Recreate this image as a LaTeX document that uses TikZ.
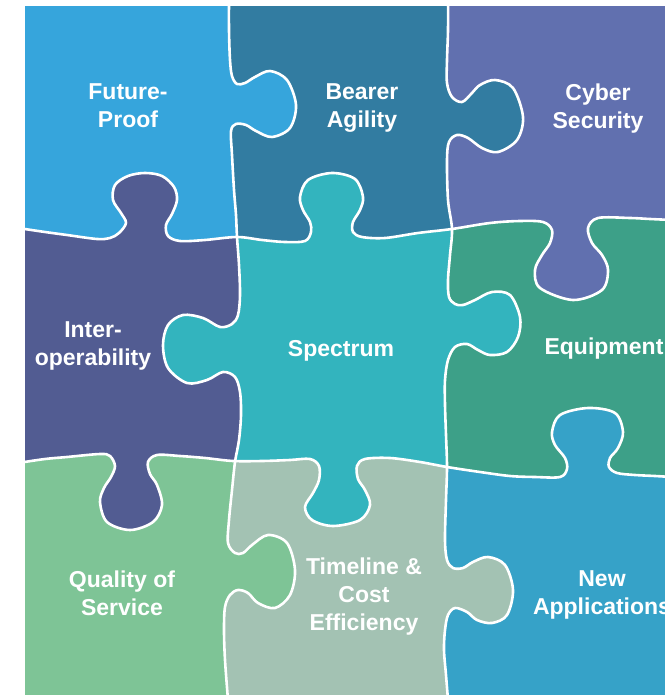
\documentclass[tikz,border=0pt]{standalone}
\usepackage{fontspec}
\setmainfont{Liberation Sans}
\definecolor{cfp}{HTML}{36A5DC}
\definecolor{cba}{HTML}{327CA1}
\definecolor{ccs}{HTML}{6170AF}
\definecolor{cio}{HTML}{525C92}
\definecolor{csp}{HTML}{33B4BE}
\definecolor{ceq}{HTML}{3DA088}
\definecolor{cqs}{HTML}{7EC496}
\definecolor{ctl}{HTML}{A3C2B3}
\definecolor{cna}{HTML}{36A2C8}
\begin{document}
\begin{tikzpicture}[x=1pt,y=-1pt,
  lbl/.style={text=white,font=\fontsize{23}{28}\selectfont\bfseries,align=center,inner sep=0pt},
  seam/.style={draw=white,line width=2.6pt,line join=round,line cap=round}]
\useasboundingbox (0,0) rectangle (665,695);
\def\Vone{plot[smooth,tension=0.55] coordinates {(229,-2) (229,30) (230,60) (232,76) (237,84) (245,83) (255,77) (270,71) (287,80) (296,105) (290,128) (272,137) (256,131) (246,125) (236,124) (231,131) (232,155) (234,190) (236,215) (237,237) (239,265) (240,295) (238,315) (232,324) (220,327) (203,318) (183,315) (168,325) (163,345) (168,368) (187,383) (207,380) (223,372) (235,377) (240,392) (241,415) (239,440) (235,462) (232,490) (229,520) (228,543) (235,553) (243,553) (252,545) (268,535) (287,543) (295,570) (290,595) (275,608) (258,603) (248,593) (238,590) (230,595) (225,607) (224,630) (225,660) (228,700)}}
\def\Vtwo{plot[smooth,tension=0.55] coordinates {(448,-2) (448,30) (447,60) (447,83) (452,97) (462,102) (472,93) (480,85) (495,80) (513,88) (523,117) (517,140) (498,152) (482,148) (468,138) (457,135) (449,142) (447,160) (448,200) (452,229) (450,255) (448,280) (449,297) (455,304) (463,305) (475,300) (492,292) (510,295) (520,317) (518,337) (507,352) (490,355) (478,350) (467,344) (455,347) (448,360) (445,380) (445,405) (446,435) (447,467) (446,500) (445,540) (447,560) (453,568) (463,568) (473,562) (488,557) (505,565) (513,590) (507,615) (492,623) (477,620) (467,612) (455,608) (448,615) (445,630) (444,650) (446,675) (448,700)}}
\def\Hone{plot[smooth,tension=0.55] coordinates {(18,228) (45,232) (67,235) (97,239) (110,238) (119,233) (126,223) (121,213) (113,200) (115,185) (128,176) (145,173) (162,176) (174,187) (177,200) (172,214) (166,225) (168,236) (180,241) (205,240) (237,237) (262,240) (285,242) (305,241) (311,232) (310,222) (303,210) (300,197) (308,180) (332,173) (355,179) (363,197) (360,210) (353,222) (353,232) (362,237) (385,238) (418,233) (452,229) (490,223) (520,221) (543,222) (552,230) (550,243) (542,255) (535,270) (540,288) (573,300) (602,290) (608,270) (602,255) (592,243) (588,228) (598,218) (630,218) (650,219) (672,220)}}
\def\Htwo{plot[smooth,tension=0.55] coordinates {(18,463) (45,459) (67,457) (100,454) (110,456) (115,466) (111,477) (104,488) (100,502) (107,522) (130,530) (153,522) (162,505) (157,485) (150,474) (148,462) (157,455) (180,456) (205,458) (233,461) (262,461) (290,460) (310,459) (319,466) (319,480) (313,493) (305,507) (312,520) (333,526) (360,520) (370,505) (365,490) (358,479) (357,466) (365,459) (390,458) (420,462) (447,467) (480,472) (510,476) (535,477) (560,477) (567,469) (565,458) (555,445) (552,432) (560,415) (588,408) (615,413) (623,432) (618,448) (610,458) (609,467) (617,473) (635,475) (655,476) (672,477)}}
\def\VoneL{\Vone -- (-20,720) -- (-20,-20) -- cycle}
\def\VoneR{\Vone -- (700,720) -- (700,-20) -- cycle}
\def\VtwoL{\Vtwo -- (-20,720) -- (-20,-20) -- cycle}
\def\VtwoR{\Vtwo -- (700,720) -- (700,-20) -- cycle}
\def\HoneA{\Hone -- (700,-20) -- (-20,-20) -- cycle}
\def\HoneB{\Hone -- (700,720) -- (-20,720) -- cycle}
\def\HtwoA{\Htwo -- (700,-20) -- (-20,-20) -- cycle}
\def\HtwoB{\Htwo -- (700,720) -- (-20,720) -- cycle}
% row 1
\begin{scope}\clip \VoneL; \clip \HoneA; \fill[cfp] (25,6) rectangle (665,695);\end{scope}
\begin{scope}\clip \VoneR; \clip \VtwoL; \clip \HoneA; \fill[cba] (25,6) rectangle (665,695);\end{scope}
\begin{scope}\clip \VtwoR; \clip \HoneA; \fill[ccs] (25,6) rectangle (665,695);\end{scope}
% row 2
\begin{scope}\clip \VoneL; \clip \HoneB; \clip \HtwoA; \fill[cio] (25,6) rectangle (665,695);\end{scope}
\begin{scope}\clip \VoneR; \clip \VtwoL; \clip \HoneB; \clip \HtwoA; \fill[csp] (25,6) rectangle (665,695);\end{scope}
\begin{scope}\clip \VtwoR; \clip \HoneB; \clip \HtwoA; \fill[ceq] (25,6) rectangle (665,695);\end{scope}
% row 3
\begin{scope}\clip \VoneL; \clip \HtwoB; \fill[cqs] (25,6) rectangle (665,695);\end{scope}
\begin{scope}\clip \VoneR; \clip \VtwoL; \clip \HtwoB; \fill[ctl] (25,6) rectangle (665,695);\end{scope}
\begin{scope}\clip \VtwoR; \clip \HtwoB; \fill[cna] (25,6) rectangle (665,695);\end{scope}
% seams
\begin{scope}
\clip (25,6) rectangle (665,695);
\draw[seam] \Vone;
\draw[seam] \Vtwo;
\draw[seam] \Hone;
\draw[seam] \Htwo;
\end{scope}
% labels
\node[lbl] (fp) at (128,106) {Future-\\Proof};
\node[lbl] (ba) at (362,108.4) {Bearer\\Agility};
\node[lbl] (cs) at (598,108.4) {Cyber\\Security};
\node[lbl] (io) at (93,346.4) {Inter-\\operability};
\node[lbl] (sp) at (341,351.3) {Spectrum};
\node[lbl] (eq) at (604,348.3) {Equipment};
\node[lbl] (qs) at (122,593) {Quality of\\Service};
\node[lbl] (tl) at (364,596.4) {Timeline \&\\Cost\\Efficiency};
\node[lbl] (na) at (602,595.4) {New\\Applications};
\end{tikzpicture}
\end{document}
